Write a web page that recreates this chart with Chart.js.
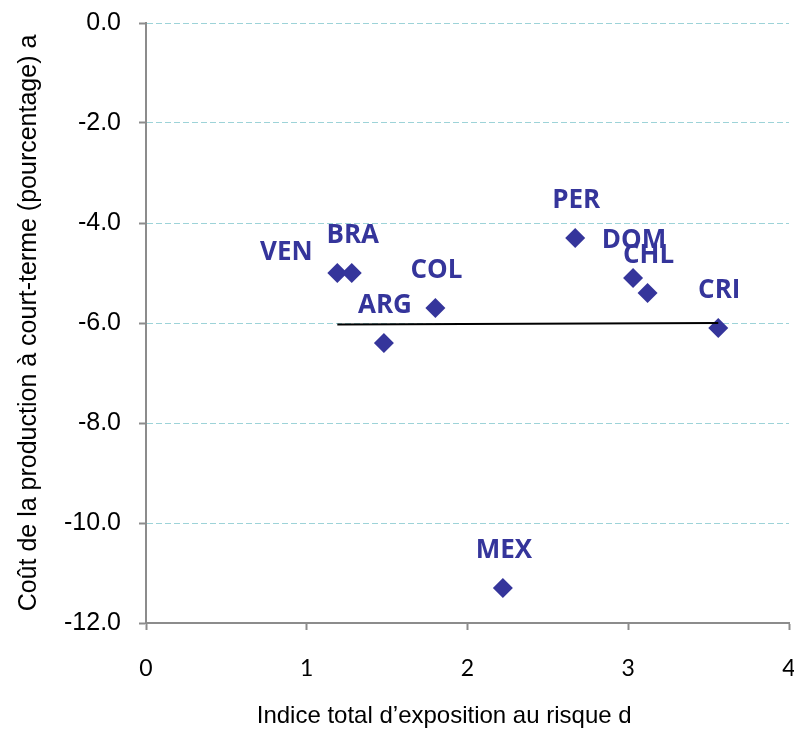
<!DOCTYPE html>
<html lang="fr">
<head>
    <meta charset="UTF-8">
    <title>Coût de la production et exposition au risque</title>
    <style>
        body { margin: 0; background: #fff; }
        .chart-box { width: 794px; height: 731px; }
    </style>
</head>
<body>
    <div class="chart-box">
        <canvas id="scatter-chart" width="794" height="731"></canvas>
    </div>

    <script src="https://cdn.jsdelivr.net/npm/chart.js"></script>
    <script>
        // values
        const countries = ['VEN', 'BRA', 'ARG', 'COL', 'MEX', 'PER', 'DOM', 'CHL', 'CRI'];
        const exposure = [1.19, 1.28, 1.48, 1.80, 2.22, 2.67, 3.03, 3.12, 3.56];
        const outputCost = [-5.0, -5.0, -6.4, -5.7, -11.3, -4.3, -5.1, -5.4, -6.1];
        const trendX = [1.19, 3.56];
        const trendY = [-6.03, -6.0];

        const markColor = '#35359b';
        const axisGray = '#8c8c8c';

        // label placement, in pixels from the point (VEN sits off to the left)
        const labelShift = { VEN: [-51, -22] };
        const defaultShift = [1, -39];

        const countryLabels = {
            id: 'countryLabels',
            afterDatasetsDraw(chart) {
                const ctx = chart.ctx;
                const meta = chart.getDatasetMeta(1);
                ctx.save();
                ctx.font = 'bold 26px "Open Sans", sans-serif';
                ctx.fillStyle = markColor;
                ctx.textAlign = 'center';
                ctx.textBaseline = 'alphabetic';
                meta.data.forEach((pt, i) => {
                    const shift = labelShift[countries[i]] || defaultShift;
                    ctx.fillText(countries[i], pt.x + shift[0], pt.y + shift[1] + 9);
                });
                ctx.restore();
            }
        };

        const ctx = document.getElementById('scatter-chart').getContext('2d');
        new Chart(ctx, {
            type: 'scatter',
            data: {
                datasets: [
                    {
                        type: 'line',
                        label: 'Tendance',
                        data: trendX.map((x, i) => ({ x: x, y: trendY[i] })),
                        borderColor: '#000',
                        borderWidth: 2,
                        pointRadius: 0,
                        fill: false
                    },
                    {
                        label: 'Pays',
                        data: exposure.map((x, i) => ({ x: x, y: outputCost[i] })),
                        pointStyle: 'rectRot',
                        pointRadius: 10,
                        pointHoverRadius: 10,
                        backgroundColor: markColor,
                        borderColor: markColor,
                        borderWidth: 0
                    }
                ]
            },
            options: {
                responsive: false,
                animation: false,
                layout: { autoPadding: false, padding: { left: 0, right: 5, top: 23, bottom: 0 } },
                plugins: {
                    legend: { display: false },
                    tooltip: { enabled: false }
                },
                scales: {
                    x: {
                        type: 'linear',
                        min: 0,
                        max: 4,
                        ticks: {
                            stepSize: 1,
                            padding: 25,
                            color: '#000',
                            font: { family: 'Lato, "Open Sans", sans-serif', size: 23 }
                        },
                        grid: {
                            drawOnChartArea: false,
                            drawTicks: true,
                            tickLength: 7,
                            tickColor: axisGray,
                            tickWidth: 2
                        },
                        border: { color: axisGray, width: 2 },
                        title: {
                            display: true,
                            text: 'Indice total d\u2019exposition au risque d       ',
                            color: '#000',
                            padding: { top: 0, bottom: 0 },
                            font: { family: '"Liberation Sans", Arial, sans-serif', size: 24 }
                        },
                        afterFit(scale) {
                            scale.height = 108;
                            scale.paddingLeft = 0;
                            scale.paddingRight = 0;
                        }
                    },
                    y: {
                        type: 'linear',
                        min: -12,
                        max: 0,
                        ticks: {
                            stepSize: 2,
                            padding: 18,
                            color: '#000',
                            font: { family: '"Liberation Sans", Arial, sans-serif', size: 25 },
                            callback: v => v.toFixed(1)
                        },
                        grid: {
                            color: '#9dd3d8',
                            lineWidth: 1,
                            tickLength: 7,
                            tickColor: axisGray,
                            tickWidth: 2,
                            tickBorderDash: []
                        },
                        border: { color: axisGray, width: 2, dash: [6, 3] },
                        title: {
                            display: true,
                            text: 'Coût de la production à court-terme (pourcentage) a',
                            color: '#000',
                            padding: { top: 14, bottom: 0 },
                            font: { family: '"Liberation Sans", Arial, sans-serif', size: 25 }
                        },
                        afterFit(scale) {
                            scale.width = 146;
                            scale.paddingTop = 0;
                            scale.paddingBottom = 0;
                        }
                    }
                }
            },
            plugins: [countryLabels]
        });
    </script>
</body>
</html>
